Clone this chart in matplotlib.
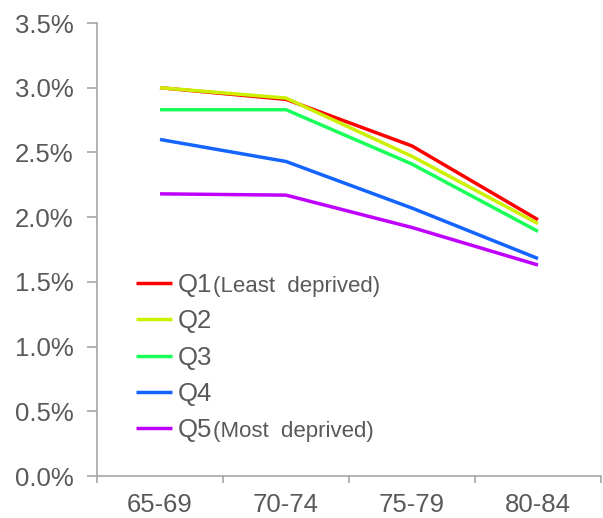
import matplotlib
matplotlib.use("Agg")
import matplotlib.pyplot as plt
from matplotlib.ticker import FixedLocator, PercentFormatter

plt.rcParams["font.family"] = ["Liberation Sans", "DejaVu Sans"]

# Grupos de edad y tasas (%) por quintil
grupos = ["65-69", "70-74", "75-79", "80-84"]
q1 = [3.00, 2.91, 2.55, 1.98]
q2 = [3.00, 2.92, 2.47, 1.95]
q3 = [2.83, 2.83, 2.41, 1.89]
q4 = [2.60, 2.43, 2.07, 1.68]
q5 = [2.18, 2.17, 1.92, 1.63]

nombres = ["Q1", "Q2", "Q3", "Q4", "Q5"]
sufijos = ["(Least  deprived)", "", "", "", "(Most  deprived)"]
colores = ["#ff0000", "#ccf000", "#1aff5a", "#1464ff", "#c000ff"]
gris = "#595959"

fig = plt.figure(figsize=(6.03, 5.18), dpi=100)
ax = fig.add_axes([97 / 603, 42 / 518, 504 / 603, 453 / 518])

x = range(len(grupos))
for serie, nombre, color in zip([q1, q2, q3, q4, q5], nombres, colores):
    ax.plot(x, serie, color=color, lw=2.5, label=nombre, solid_capstyle="butt")

ax.set_xlim(-0.5, 3.5)
ax.set_ylim(0, 3.5)
ax.set_yticks([0, 0.5, 1, 1.5, 2, 2.5, 3, 3.5])
ax.yaxis.set_major_formatter(PercentFormatter(decimals=1))
ax.set_xticks(list(x))
ax.set_xticklabels(grupos)
ax.xaxis.set_minor_locator(FixedLocator([-0.5, 0.5, 1.5, 2.5, 3.5]))

for s in ["top", "right"]:
    ax.spines[s].set_visible(False)
for s in ["left", "bottom"]:
    ax.spines[s].set_color("#a6a6a6")
    ax.spines[s].set_linewidth(1.2)

ax.tick_params(axis="y", colors="#a6a6a6", labelcolor=gris, labelsize=18.5,
               length=7, width=1.2, pad=10)
ax.tick_params(axis="x", which="major", length=0, labelcolor=gris,
               labelsize=18.5, pad=12)
ax.tick_params(axis="x", which="minor", length=5, width=1.2, colors="#a6a6a6")

leg = ax.legend(loc="upper left", bbox_to_anchor=(0.077, 0.448), frameon=False,
                fontsize=18.5, handlelength=1.4, handletextpad=0.22,
                labelspacing=0.48, borderpad=0, borderaxespad=0)
for txt in leg.get_texts():
    txt.set_color(gris)

for txt, suf in zip(leg.get_texts(), sufijos):
    if suf:
        ax.annotate(suf, xy=(1, 0), xycoords=txt, xytext=(0.5, 0.21 * 18.5),
                    textcoords="offset points", va="baseline", ha="left",
                    fontsize=16, color=gris, zorder=10)

fig.savefig("out.png", dpi=100)
